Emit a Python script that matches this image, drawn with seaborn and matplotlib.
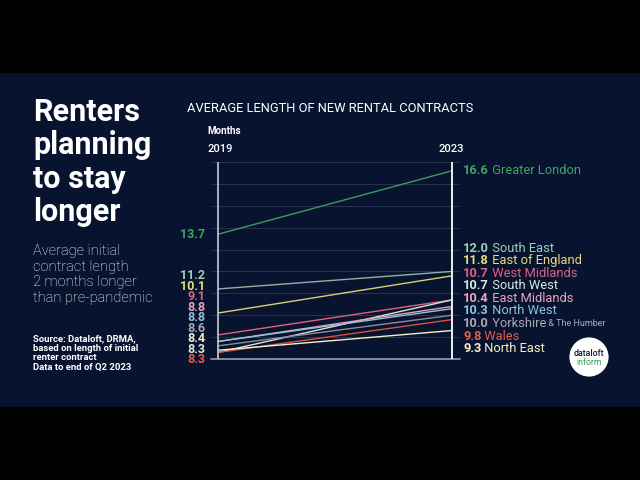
import matplotlib
matplotlib.use('Agg')
import matplotlib.pyplot as plt
from matplotlib.patches import Rectangle, Circle
import pandas as pd
import seaborn as sns

# data (months)
regions = ['Greater London', 'South East', 'East of England', 'West Midlands', 'South West',
           'East Midlands', 'North West', 'Yorkshire', 'Wales', 'North East']
months_2019 = [13.7, 11.2, 10.1, 9.1, 8.3, 8.8, 8.8, 8.6, 8.3, 8.4]
months_2023 = [16.6, 12.0, 11.8, 10.7, 10.7, 10.4, 10.3, 10.0, 9.8, 9.3]
years = [2019, 2023]
colours = ['#3fa463', '#9fd0b0', '#e6dc78', '#e0607e', '#d6ecdc',
           '#f0a2b8', '#8dc2e0', '#a9a9b3', '#e55a48', '#f4efc8']
line_colours = ['#3c9a5c', '#8fb0a4', '#d9d070', '#e0607e', '#cfe6d6',
                '#ee9cb2', '#8dc2e0', '#8c8c98', '#d9503f', '#f4efc8']

rows = []
for r, a, b in zip(regions, months_2019, months_2023):
    rows.append({'region': r, 'year': years[0], 'months': a})
    rows.append({'region': r, 'year': years[1], 'months': b})
df = pd.DataFrame(rows)

sns.set_style('dark')
plt.rcParams['font.family'] = ['Roboto', 'DejaVu Sans']

BG = '#08142f'
fig = plt.figure(figsize=(6.4, 4.8), dpi=100, facecolor='black')
fig.patches.append(Rectangle((0, 73 / 480), 1, 334 / 480, transform=fig.transFigure,
                             facecolor=BG, edgecolor='none', zorder=-1))

ax = fig.add_axes([211 / 640, 1 - 359 / 480, 249 / 640, 197 / 480])
ax.set_facecolor(BG)
sns.lineplot(data=df, x='year', y='months', hue='region', palette=dict(zip(regions, line_colours)),
             hue_order=regions, linewidth=1.0, legend=False, ax=ax)
for ln in ax.lines:
    ln.set_clip_on(False)
ax.set_xlim(2019 - 7 / 58.5, 2023 + 8 / 58.5)
ax.set_ylim(8, 17)
ax.set_yticks(range(9, 18))
ax.grid(axis='y', color='#26324e', linewidth=0.7)
ax.grid(axis='x', visible=False)
ax.tick_params(length=0, labelleft=False, labelbottom=False)
for s in ax.spines.values():
    s.set_visible(False)
ax.axhline(8, color='#8e93a6', linewidth=1.3, clip_on=False)
ax.axvline(2019, color='#b9bccb', linewidth=1.3, ymin=0, ymax=1)
ax.axvline(2023, color='white', linewidth=1.3, ymin=0, ymax=1)
ax.set_xlabel('')
ax.set_ylabel('')

# left value labels, stacked top to bottom so they do not collide
left_order = [0, 1, 2, 3, 5, 6, 7, 9, 4, 8]
for k, i in enumerate(left_order):
    y = months_2019[i] if i == 0 else 11.8 - (k - 1) * 0.48
    ax.text(2019 - 13 / 58.5, y, f'{months_2019[i]:.1f}', color=colours[i], fontsize=9,
            fontweight='bold', ha='right', va='center')

# right labels
for k, i in enumerate(range(len(regions))):
    y = months_2023[i] if i == 0 else 13.07 - (k - 1) * 0.575
    t = ax.text(2023 + 11 / 58.5, y, f'{months_2023[i]:.1f}', color=colours[i], fontsize=9.3,
                fontweight='bold', ha='left', va='center')
    nm = ax.annotate(' ' + regions[i], xy=(1, 0), xycoords=t, color=colours[i], fontsize=9.3,
                     ha='left', va='bottom')
    if regions[i] == 'Yorkshire':
        ax.annotate(' & The Humber', xy=(1, 0), xycoords=nm, xytext=(0, 1.2),
                    textcoords='offset points', color=colours[i], fontsize=6.5,
                    ha='left', va='bottom')

# headings
fig.text(187 / 640, 1 - 108 / 480, 'AVERAGE LENGTH OF NEW RENTAL CONTRACTS', color='white',
         fontsize=9.3, ha='left', va='center')
fig.text(207 / 640, 1 - 131 / 480, 'Months', color='white', fontsize=7, fontweight='bold',
         ha='left', va='center')
fig.text(207 / 640, 1 - 149 / 480, '2019', color='white', fontsize=8, fontweight='medium',
         ha='left', va='center')
fig.text(451 / 640, 1 - 149 / 480, '2023', color='white', fontsize=8, fontweight='medium',
         ha='center', va='center')

fig.text(33 / 640, 1 - 97 / 480, 'Renters\nplanning\nto stay\nlonger', color='white',
         fontsize=22, fontweight='bold', ha='left', va='top', linespacing=1.14)
fig.text(33 / 640, 1 - 244 / 480, 'Average initial\ncontract length\n2 months longer\nthan pre-pandemic',
         color='white', fontsize=10.5, fontweight='light', ha='left', va='top', linespacing=1.15)
fig.text(33 / 640, 1 - 334 / 480,
         'Source: Dataloft, DRMA,\nbased on length of initial\nrenter contract\nData to end of Q2 2023',
         color='white', fontsize=6.8, fontweight='bold', ha='left', va='top', linespacing=1.1)

# logo
lax = fig.add_axes([569 / 640, 1 - 377 / 480, 40 / 640, 40 / 480])
lax.set_xlim(0, 1)
lax.set_ylim(0, 1)
lax.axis('off')
lax.add_patch(Circle((0.5, 0.5), 0.49, facecolor='white', edgecolor='none'))
lax.text(0.5, 0.58, 'dataloft', color='#101a35', fontsize=6.3, fontweight='medium',
         ha='center', va='center')
lax.text(0.5, 0.36, 'inform', color='#2fa85a', fontsize=6.3, ha='center', va='center')

fig.savefig('out.png', dpi=100, facecolor='black')
